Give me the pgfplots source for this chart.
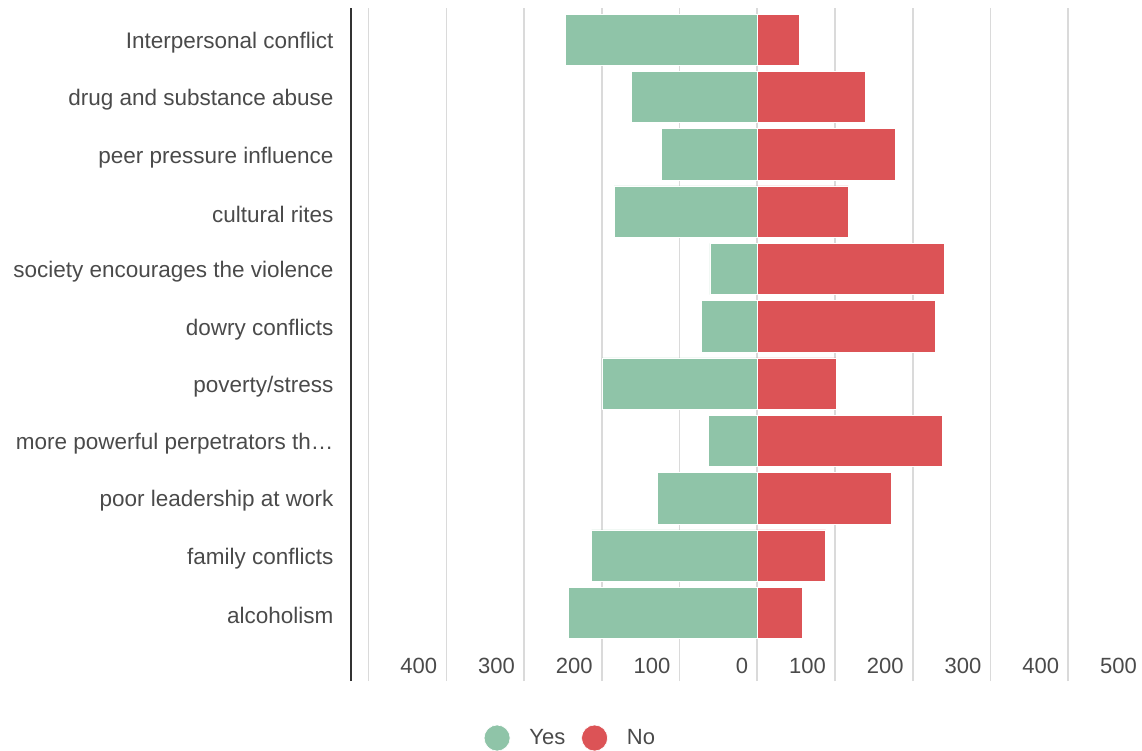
\documentclass[border=0pt]{standalone}
\usepackage{fontspec}
\setmainfont{Liberation Sans}
\usepackage{pgfplots}
\pgfplotsset{compat=1.18}
\definecolor{yesc}{HTML}{8FC4A8}
\definecolor{noc}{HTML}{DC5356}
\definecolor{gridc}{HTML}{DADADA}
\definecolor{txt}{HTML}{4A4A4A}
\definecolor{axc}{HTML}{333333}
\begin{document}
\begin{tikzpicture}
\begin{axis}[
  at={(0,0)}, anchor=north west,
  scale only axis, width=795.3pt, height=673pt,
  xmin=-523, xmax=500, ymin=-1.19, ymax=10.553,
  xbar, bar width=0.895, bar shift=0pt,
  axis lines*=left,
  x axis line style={draw=none},
  y axis line style={draw=axc, line width=2.2pt},
  xtick={-500,-400,...,500},
  xticklabels={,400,300,200,100,0,100,200,300,400,500},
  ytick={0,...,10},
  yticklabels={alcoholism, family conflicts, poor leadership at work, more powerful perpetrators th…, poverty/stress, dowry conflicts, society encourages the violence, cultural rites, peer pressure influence, drug and substance abuse, Interpersonal conflict},
  major tick length=0pt,
  xmajorgrids, grid style={draw=gridc, line width=1.6pt},
  x tick label style={font=\fontsize{22}{26}\selectfont, text=txt, anchor=base east, inner sep=0pt, xshift=-9pt, yshift=7.3pt},
  y tick label style={font=\fontsize{22.5}{27}\selectfont, text=txt, anchor=east, inner sep=0pt, xshift=-17pt, yshift=-3pt},
  legend style={at={(axis description cs:0.275,-0.0847)}, anchor=center, draw=none, fill=none,
    legend columns=2, font=\fontsize{22}{26}\selectfont, text=txt, nodes={inner sep=0pt},
    /tikz/every odd column/.append style={column sep=19pt},
    /tikz/every even column/.append style={column sep=16pt}},
  legend image code/.code={\fill[#1] (0pt,0pt) circle (13pt);},
]
\addplot[fill=yesc, draw=white, line width=0.6pt] coordinates {
  (-243,0) (-213,1) (-128,2) (-63,3) (-200,4) (-72,5) (-61,6) (-184,7) (-123,8) (-162,9) (-247,10)};
\addplot[fill=noc, draw=white, line width=0.6pt] coordinates {
  (58,0) (88,1) (173,2) (238,3) (101,4) (229,5) (240,6) (117,7) (178,8) (139,9) (54,10)};
\legend{Yes, No}
\end{axis}
\pgfresetboundingbox
\useasboundingbox (-350.7pt,8pt) rectangle (791.3pt,-743pt);
\end{tikzpicture}
\end{document}
